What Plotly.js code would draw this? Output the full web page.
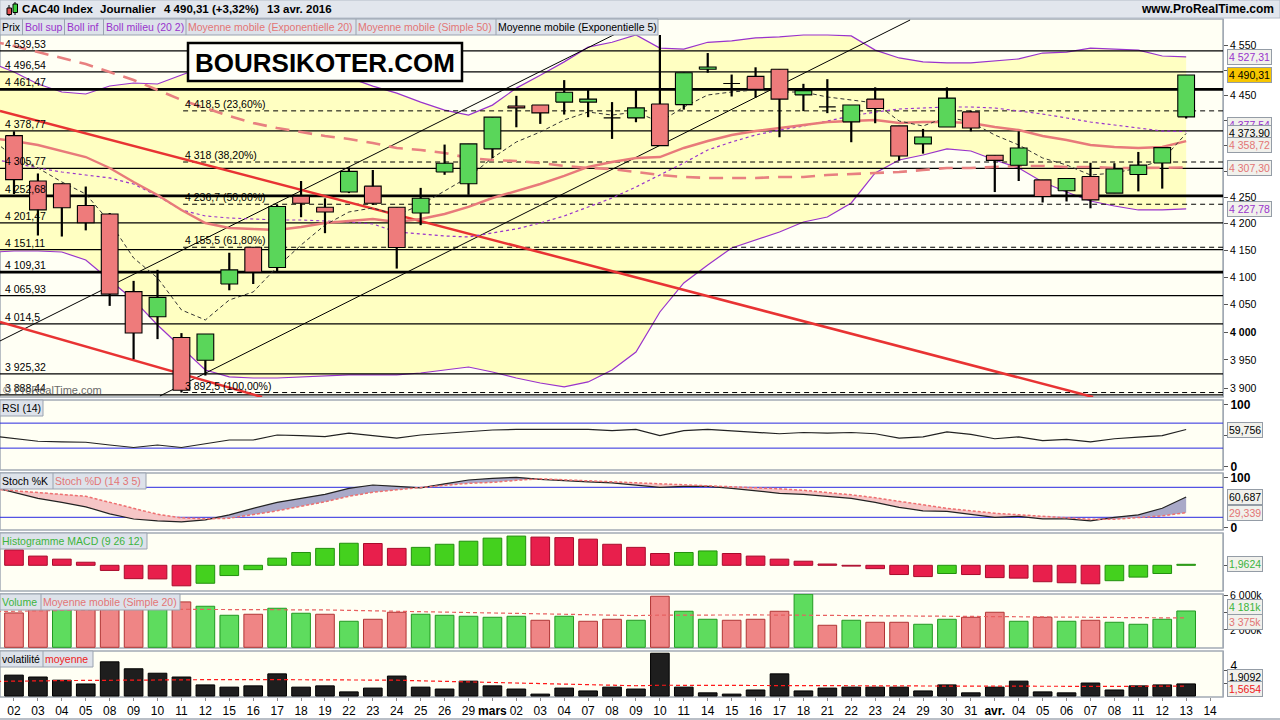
<!DOCTYPE html>
<html><head><meta charset="utf-8">
<script src="https://cdn.plot.ly/plotly-3.0.1.min.js"></script>
<style>html,body{margin:0;padding:0;background:#fff}#chart{width:1280px;height:720px}</style>
</head><body><div id="chart"></div>
<script>
// ---------------- DATA ----------------
const axisLabels = ['02','03','04','05','08','09','10','11','12','15','16','17','18','19','22','23','24','25','26','29','<b>mars</b>','02','03','04','07','08','09','10','11','14','15','16','17','18','21','22','23','24','29','30','31','<b>avr.</b>','04','05','06','07','08','11','12','13','14'];

const openP  = [4369.6,4281.2,4275.9,4234.2,4218.2,4073.4,4027.5,3990.2,3949.6,4087.3,4155.5,4117.8,4252.0,4231.1,4260.0,4271.3,4231.0,4220.0,4298.5,4276.0,4343.5,4428.3,4430.2,4436.0,4436.0,4404.6,4404.6,4432.2,4430.9,4502.0,4473.4,4487.6,4502.0,4450.4,4426.4,4396.7,4442.0,4388.7,4353.3,4386.7,4416.5,4331.0,4311.6,4283.4,4262.6,4289.9,4258.0,4293.9,4316.2,4406.6];
const highP  = [4378,4295.8,4277,4270.6,4220,4093.1,4113.5,3998,3996.3,4145.2,4156,4235.5,4281.2,4248,4307.6,4302.5,4231,4268,4352,4353.3,4406,4448.5,4430.2,4480.1,4460,4436,4460,4572,4495,4535,4491.3,4506,4502,4472.6,4482,4430.2,4465.6,4388.7,4382.8,4465.6,4419,4331,4378,4283.4,4286,4316.5,4315.7,4337.6,4346.7,4490.5];
const lowP   = [4256,4177.5,4175.6,4187.2,4047.3,3951.4,3987.2,3892.5,3922.4,4075.8,4087.3,4110.6,4212,4181.9,4258,4235.5,4115.8,4197,4293.2,4254.7,4325.8,4386,4392.7,4411.2,4406,4363.1,4396,4350,4421,4495,4447.2,4445,4366.4,4418,4414,4356.6,4394,4320.6,4334.3,4386.7,4378,4260,4281.2,4240,4242,4229,4258,4261.3,4266.6,4403.3];
const closeP = [4283.9,4226,4230,4201.5,4068.8,3998.1,4062.8,3896.5,3996.3,4113.4,4109.3,4232.4,4238.6,4221.9,4299.8,4238.6,4155,4248,4315.7,4353.3,4406,4424.4,4414.5,4455.6,4442,4404,4424.4,4350,4495,4506.5,4473,4461.5,4442,4459,4426,4430.2,4423.1,4329.8,4367,4444,4384.7,4321.2,4345.4,4251.5,4286,4245,4304.5,4312,4346,4490.31];

// indicator lines: first value = previous session (01 Feb), then 02 Feb .. 13 Apr
const bollUp  = [4516,4496.5,4472.3,4456.2,4452.2,4468.2,4474.3,4472.3,4490.4,4508,4505,4500,4497,4494,4490,4485,4468,4454,4436,4420,4410,4430,4464,4490,4517,4547,4557,4572,4545,4543,4557,4560,4566,4568,4572,4572,4570,4541,4525,4517,4515,4515,4519,4523,4535,4537,4545,4543,4541,4529,4527.31];
const bollLow = [4146,4148.5,4148.5,4146.6,4131.8,4094.8,4058.1,4012.7,3971.4,3932.2,3919.9,3918.1,3918.1,3919.9,3921.6,3923.4,3923.4,3923.4,3926.9,3932.2,3937.5,3928.7,3918.1,3909.3,3902.3,3911.1,3932.2,3964.2,4036.2,4089.3,4122.5,4154.1,4169.1,4184.1,4203,4212.5,4239.1,4296.7,4321.9,4331.6,4343.4,4339.5,4321.9,4306.4,4279.4,4260.2,4242.9,4233.4,4225.8,4225.8,4227.78];
const bollMid = [4324,4316.1,4306.4,4298.6,4292.8,4287.1,4275.5,4252.5,4225.8,4214.4,4210.6,4208.7,4206.8,4206.8,4204.9,4203,4199.2,4184.1,4180.4,4176.6,4174.7,4182.2,4189.8,4201.1,4214.4,4231.5,4248.6,4269.8,4292.8,4316.1,4341.4,4357.1,4370.8,4380.6,4388.5,4398.4,4408.3,4416.2,4422.2,4424.2,4426.2,4426.2,4424.2,4418.2,4412.2,4404.4,4396.4,4390.5,4384.5,4378.6,4377.54];
const ema20   = [4365,4359,4351.2,4339.4,4327.7,4306.4,4279.4,4254.4,4225.8,4201.1,4191.7,4189.8,4187.9,4193.5,4201.1,4204.9,4208.7,4203,4208.7,4218.2,4231.5,4248.6,4262.1,4275.5,4290.9,4308.3,4318,4325.8,4327.7,4345.3,4359,4370.8,4378.6,4384.5,4390.5,4396.4,4398.4,4400.4,4394.4,4396.4,4396.4,4394.4,4386.5,4380.6,4368.8,4361,4351.2,4347.3,4345.3,4347.3,4358.72];
const sma50   = [4560,4549.4,4537.1,4524.9,4512.6,4496.5,4480.3,4460.2,4440.2,4424.2,4408.3,4394.4,4384.5,4376.7,4368.8,4363,4355.1,4345.3,4341.4,4335.6,4325.8,4321.9,4320,4316.1,4310.3,4306.4,4304.4,4298.6,4292.8,4289,4287.1,4287.1,4287.1,4289,4289,4292.8,4294.8,4296.7,4298.6,4302.5,4306.4,4306.4,4308.3,4310.3,4310.3,4308.3,4308.3,4306.4,4306.4,4306.4,4307.3];
const ema5    = [4365,4327.7,4306.4,4279.4,4256.3,4203,4135.5,4098.5,4039.9,4021.7,4058.1,4072.7,4118.8,4159.7,4197.3,4222,4229.6,4216.3,4235.3,4262.1,4289,4325.8,4357.1,4376.7,4400.4,4416.2,4410.2,4416.2,4396.4,4426.2,4450.2,4456.2,4460.2,4456.2,4456.2,4446.2,4440.2,4434.2,4398.4,4388.5,4406.3,4396.4,4370.8,4351.2,4325.8,4312.2,4292.8,4296.7,4306.4,4321.9,4373.9];

const rsi14  = [50,45.5,41,40,39.4,35,31,35,31,37,43,43,51,50,48.5,54,50,46,51,54,56.5,59,60,60,61,60,58,60,50,58,60,58,56,53,55,54,55,53,46,48,56,52,45,48,42,44,40,45,47.5,50,59.756];
const stochK = [82,70,58,50,41,27,16.6,13,11,15,25,38,50,58,66,78,84.6,82,79,87,94.6,98,100,96,93,91,89,85,80,82,82,78,73,68,66,62,58,50,40,33,32,26,20,22,17,17,13,20,25,38,60.687];
const stochD = [77,73,70,66,62,50,38,26,19,17,18,25,33,42,51,62,70,75,80,84,88,90,94,97,95,93,92,90,88,86,84,82,80,77,74,70,65,59,52,45,38,33,28,25,22,19,16,16,19,23,29.339];
const rsiLevels = [70, 30];
const stochLevels = [80, 20];

const macdHist = [30,18,12,6,-10,-26,-26.5,-40,-35,-20,-8.5,14,25,33,43,42.5,33,35,41,47,53,57,55,54,51,41,35,23,25,28,23,18,12,8,2.5,-1.5,-6.5,-18,-22,-16,-18,-24,-25,-32,-34,-36,-30,-23,-16,1.9624];
const volumeK  = [3955,4838,4608,4723,4838,4992,4378,5222,4723,3686,3802,4493,3917,3802,2995,3226,4032,3802,3686,3571,3456,3571,3110,3571,2995,3226,3110,5875,4147,3226,3110,3226,4147,6106,2534,3110,2880,2880,2650,3226,3456,4032,2995,3456,2995,3110,2880,2650,3226,4181];
const volumeMA = [4100,4150,4230,4290,4330,4360,4375,4378,4380,4380,4378,4370,4350,4320,4300,4250,4200,4120,4060,4000,3930,3880,3840,3800,3760,3720,3680,3650,3700,3720,3725,3725,3725,3710,3690,3660,3630,3610,3600,3580,3560,3545,3535,3520,3480,3440,3400,3360,3345,3345,3375];
const volatility = [3.3,3.0,2.5,1.9,5.4,4.3,3.6,3.0,1.75,1.4,1.6,3.5,1.4,1.6,0.65,1.25,3.15,1.4,1.1,2.35,1.6,1.1,0.3,1.25,0.8,1.4,1.1,6.75,1.4,0.5,0.3,0.95,3.5,0.8,1.25,1.4,1.4,1.4,0.8,1.75,0.5,1.4,2.35,0.65,0.5,2.05,0.95,1.6,1.75,1.9092];
const volatilityAvg = [2.3,2.38,2.4,2.43,2.46,2.5,2.52,2.55,2.57,2.58,2.6,2.6,2.6,2.6,2.58,2.55,2.52,2.5,2.4,2.3,2.2,2.15,2.1,1.95,1.85,1.75,1.68,1.62,1.7,1.7,1.7,1.7,1.7,1.68,1.66,1.65,1.63,1.61,1.6,1.58,1.56,1.55,1.52,1.5,1.5,1.5,1.5,1.52,1.54,1.56,1.5654];

const levelValues = [4539.53,4496.54,4461.47,4378.77,4305.77,4252.68,4201.47,4151.11,4109.31,4065.93,4014.5,3925.32,3888.44];
const levelLabels = ['4 539,53','4 496,54','4 461,47','4 378,77','4 305,77','4 252,68','4 201,47','4 151,11','4 109,31','4 065,93','4 014,5','3 925,32','3 888,44'];
const fibValues = [4418.5,4318,4236.7,4155.5,3892.5];
const fibLabels = ['4 418,5 (23,60%)','4 318 (38,20%)','4 236,7 (50,00%)','4 155,5 (61,80%)','3 892,5 (100,00%)'];
const fibStartSlot = 7.07;

const channelHighX = [-0.585, 26.4],  channelHighY = [3983.9, 4605];
const channelLowX  = [6.10, 37.46],   channelLowY  = [3886.5, 4602.9];
const redHighX     = [-0.585, 45.11], redHighY     = [4418.3, 3884.7];
const redLowX      = [-0.585, 10.37], redLowY      = [4018.1, 3884.7];

const priceTicks = [3900,3950,4000,4050,4100,4150,4200,4250,4300,4350,4400,4450,4500,4550];
const priceTicksHidden = [4300,4350,4400,4500]; // covered by value boxes in the reference

// ---------------- LAYOUT HELPERS ----------------
const FONT = '"Liberation Sans", Arial, sans-serif';
const PW = 1223, PT = 19, PB = 697, PH = PB - PT;
const fx = px => px / PW;
const fy = py => (PB - py) / PH;
const X0 = -0.585, X1 = 50.54;
const candleX = openP.map((_, i) => i);
const lineX = bollUp.map((_, i) => i - 1);
const PURPLE = '#9933cc', SALMON = '#e37575', GREEN = '#3cb43c';
const HALF = 0.35;

function grp(n){ return n.replace(/\B(?=(\d{3})+(?!\d))/g, ' '); }
function fmt(v, d){ const s = v.toFixed(d).split('.'); return grp(s[0]) + (s[1] ? ',' + s[1] : ''); }

const traces = [];
// Bollinger band
traces.push({x: lineX, y: bollLow, type:'scatter', mode:'lines', line:{color:PURPLE, width:1.2}, yaxis:'y', hoverinfo:'skip'});
traces.push({x: lineX, y: bollUp, type:'scatter', mode:'lines', line:{color:PURPLE, width:1.2}, fill:'tonexty', fillcolor:'#ffffc2', yaxis:'y', hoverinfo:'skip'});

// horizontal levels
const thick = new Set([2,5,8]);
let thinX=[],thinY=[],thkX=[],thkY=[];
levelValues.forEach((v,i)=>{ if(thick.has(i)){thkX.push(X0,X1,null);thkY.push(v,v,null);} else {thinX.push(X0,X1,null);thinY.push(v,v,null);} });
traces.push({x:thinX,y:thinY,type:'scatter',mode:'lines',line:{color:'#000',width:1.2},yaxis:'y',hoverinfo:'skip'});
traces.push({x:thkX,y:thkY,type:'scatter',mode:'lines',line:{color:'#000',width:2.6},yaxis:'y',hoverinfo:'skip'});
let fbX=[],fbY=[];
fibValues.forEach(v=>{fbX.push(fibStartSlot,X1,null);fbY.push(v,v,null);});
traces.push({x:fbX,y:fbY,type:'scatter',mode:'lines',line:{color:'#000',width:1,dash:'5px,4px'},yaxis:'y',hoverinfo:'skip'});

// trendlines
traces.push({x:channelHighX,y:channelHighY,type:'scatter',mode:'lines',line:{color:'#000',width:1},yaxis:'y',hoverinfo:'skip'});
traces.push({x:channelLowX,y:channelLowY,type:'scatter',mode:'lines',line:{color:'#000',width:1},yaxis:'y',hoverinfo:'skip'});
traces.push({x:redHighX,y:redHighY,type:'scatter',mode:'lines',line:{color:'#e83333',width:2.5},yaxis:'y',hoverinfo:'skip'});
traces.push({x:redLowX,y:redLowY,type:'scatter',mode:'lines',line:{color:'#e83333',width:2.5},yaxis:'y',hoverinfo:'skip'});

// moving averages
traces.push({x:lineX,y:bollMid,type:'scatter',mode:'lines',line:{color:PURPLE,width:1.2,dash:'3px,3px'},yaxis:'y',hoverinfo:'skip'});
traces.push({x:lineX,y:sma50,type:'scatter',mode:'lines',line:{color:'#e88080',width:2.6,dash:'14px,9px'},yaxis:'y',hoverinfo:'skip'});
traces.push({x:lineX,y:ema20,type:'scatter',mode:'lines',line:{color:'#e87a7a',width:2.4},yaxis:'y',hoverinfo:'skip'});
traces.push({x:lineX,y:ema5,type:'scatter',mode:'lines',line:{color:'#333',width:1,dash:'4px,3px'},yaxis:'y',hoverinfo:'skip'});

// wicks
let wX=[],wY=[];
candleX.forEach(i=>{wX.push(i,i,null);wY.push(lowP[i],highP[i],null);});
traces.push({x:wX,y:wY,type:'scatter',mode:'lines',line:{color:'#000',width:2.2},yaxis:'y',hoverinfo:'skip'});
// candle bodies as filled polygons (scatter layer, so they sit above the band fill)
function bodies(up){
  const xs=[], ys=[];
  candleX.forEach(i=>{
    const isUp = closeP[i] >= openP[i];
    if(isUp !== up) return;
    const a = openP[i], b = closeP[i];
    xs.push(i-HALF,i+HALF,i+HALF,i-HALF,i-HALF,null);
    ys.push(a,a,b,b,a,null);
  });
  return {xs, ys};
}
const bUp = bodies(true), bDn = bodies(false);
traces.push({x:bDn.xs,y:bDn.ys,type:'scatter',mode:'lines',fill:'toself',fillcolor:'#ee7b7b',line:{color:'#000',width:1.1},yaxis:'y',hoverinfo:'skip'});
traces.push({x:bUp.xs,y:bUp.ys,type:'scatter',mode:'lines',fill:'toself',fillcolor:'#5ad65a',line:{color:'#000',width:1.1},yaxis:'y',hoverinfo:'skip'});

// RSI
let rlX=[],rlY=[]; rsiLevels.forEach(v=>{rlX.push(X0,X1,null);rlY.push(v,v,null);});
traces.push({x:rlX,y:rlY,type:'scatter',mode:'lines',line:{color:'#2a2ae0',width:1},yaxis:'y2',hoverinfo:'skip'});
traces.push({x:lineX,y:rsi14,type:'scatter',mode:'lines',line:{color:'#222',width:1.2},yaxis:'y2',hoverinfo:'skip'});

// Stochastic
const kdMax = stochK.map((k,i)=>Math.max(k,stochD[i]));
const kdMin = stochK.map((k,i)=>Math.min(k,stochD[i]));
let slX=[],slY=[]; stochLevels.forEach(v=>{slX.push(X0,X1,null);slY.push(v,v,null);});
traces.push({x:slX,y:slY,type:'scatter',mode:'lines',line:{color:'#2a2ae0',width:1},yaxis:'y3',hoverinfo:'skip'});
traces.push({x:lineX,y:stochD,type:'scatter',mode:'lines',line:{width:0},yaxis:'y3',hoverinfo:'skip'});
traces.push({x:lineX,y:kdMax,type:'scatter',mode:'lines',line:{width:0},fill:'tonexty',fillcolor:'#a9a9c8',yaxis:'y3',hoverinfo:'skip'});
traces.push({x:lineX,y:stochD,type:'scatter',mode:'lines',line:{width:0},yaxis:'y3',hoverinfo:'skip'});
traces.push({x:lineX,y:kdMin,type:'scatter',mode:'lines',line:{width:0},fill:'tonexty',fillcolor:'#f6c6c6',yaxis:'y3',hoverinfo:'skip'});
traces.push({x:lineX,y:stochK,type:'scatter',mode:'lines',line:{color:'#222',width:1.2},yaxis:'y3',hoverinfo:'skip'});
traces.push({x:lineX,y:stochD,type:'scatter',mode:'lines',line:{color:'#ee7070',width:1.5,dash:'3px,2px'},yaxis:'y3',hoverinfo:'skip'});

// MACD histogram
const macdCol = macdHist.map((v,i)=> i>0 && v>macdHist[i-1] ? '#44d11e' : '#e81f4c');
const macdLine = macdHist.map((v,i)=> i>0 && v>macdHist[i-1] ? '#22900e' : '#a80c2c');
traces.push({x:candleX,y:macdHist,type:'bar',width:0.78,marker:{color:macdCol,line:{color:macdLine,width:1}},yaxis:'y4',hoverinfo:'skip'});

// Volume
const volUp = closeP.map((c,i)=> i>0 && c>closeP[i-1]);
traces.push({x:candleX,y:volumeK,type:'bar',width:0.78,marker:{color:volUp.map(u=>u?'#5edc5e':'#ef8585'),line:{color:volUp.map(u=>u?'#229922':'#b03434'),width:1}},yaxis:'y5',hoverinfo:'skip'});
traces.push({x:lineX,y:volumeMA,type:'scatter',mode:'lines',line:{color:'#e86060',width:1.2,dash:'4px,3px'},yaxis:'y5',hoverinfo:'skip'});

// Volatility
traces.push({x:candleX,y:volatility,type:'bar',width:0.78,marker:{color:'#1e1e1e',line:{color:'#000',width:1}},yaxis:'y6',hoverinfo:'skip'});
traces.push({x:lineX,y:volatilityAvg,type:'scatter',mode:'lines',line:{color:'#ff1a1a',width:1.2,dash:'4px,3px'},yaxis:'y6',hoverinfo:'skip'});

// ---------------- AXES ----------------
const baseY = {side:'right',anchor:'x',showgrid:false,zeroline:false,showline:true,linecolor:'#a2aab4',linewidth:1,
  ticks:'outside',ticklen:4,tickcolor:'#555',tickfont:{family:FONT,size:10.5,color:'#000'},fixedrange:true};
const layout = {
  width:1280,height:720,autosize:false,showlegend:false,
  margin:{l:0,r:1280-PW,t:PT,b:720-PB,pad:0},
  paper_bgcolor:'#ffffff',plot_bgcolor:'rgba(0,0,0,0)',
  barmode:'overlay',
  font:{family:FONT,size:10.5,color:'#000'},
  xaxis:{domain:[0,1],anchor:'y6',range:[X0,X1],tickmode:'array',tickvals:axisLabels.map((_,i)=>i),ticktext:axisLabels,
    tickfont:{family:FONT,size:12,color:'#000'},ticks:'outside',ticklen:3,tickcolor:'#888',showgrid:false,zeroline:false,showline:false,
    fixedrange:true},
  yaxis:Object.assign({},baseY,{domain:[fy(397),fy(19)],type:'log',range:[Math.log10(3884.7),Math.log10(4605)],
    tickmode:'array',tickvals:priceTicks,ticktext:priceTicks.map(v=> v===4000?'<b>4 000</b>':(priceTicksHidden.includes(v)?'':fmt(v,0)))}),
  yaxis2:Object.assign({},baseY,{domain:[fy(470),fy(400)],range:[-5,107],tickmode:'array',tickvals:[0,50,100],ticktext:['<b>0</b>','','<b>100</b>'],tickfont:{family:FONT,size:12,color:'#000'}}),
  yaxis3:Object.assign({},baseY,{domain:[fy(530),fy(473)],range:[-5.4,108.6],tickmode:'array',tickvals:[0,100],ticktext:['<b>0</b>','<b>100</b>'],tickfont:{family:FONT,size:12,color:'#000'}}),
  yaxis4:Object.assign({},baseY,{domain:[fy(591),fy(533)],range:[-50.1,63],showticklabels:false,tickmode:'array',tickvals:[0]}),
  yaxis5:Object.assign({},baseY,{domain:[fy(648),fy(594)],range:[-80,6133],tickmode:'array',tickvals:[2000,4000,6000],ticktext:['2 000k','','6 000k']}),
  yaxis6:Object.assign({},baseY,{domain:[0,fy(651)],range:[-0.158,7.11],tickmode:'array',tickvals:[2,4],ticktext:['','4'],ticklabelshift:-5,tickfont:{family:FONT,size:12,color:'#000'}}),
  shapes:[],annotations:[]
};

// pane backgrounds
[[19,397],[400,470],[473,530],[533,591],[594,648],[651,697]].forEach(p=>{
  layout.shapes.push({type:'rect',xref:'paper',yref:'paper',x0:0,x1:1,y0:fy(p[1]),y1:fy(p[0]),fillcolor:'#fffff4',line:{color:'#a2aab4',width:1.5},layer:'below'});
});
// top bar
layout.shapes.push({type:'rect',xref:'paper',yref:'paper',x0:0,x1:fx(1280),y0:fy(18),y1:fy(0),fillcolor:'#e2e6ed',line:{color:'#b4bcc8',width:1},layer:'above'});
layout.shapes.push({type:'line',xref:'paper',yref:'paper',x0:fx(9),x1:fx(9),y0:fy(16),y1:fy(5),line:{color:'#000',width:1},layer:'above'});
layout.shapes.push({type:'rect',xref:'paper',yref:'paper',x0:fx(7),x1:fx(11.5),y0:fy(14.5),y1:fy(8),fillcolor:'#e05050',line:{color:'#000',width:1},layer:'above'});
layout.shapes.push({type:'line',xref:'paper',yref:'paper',x0:fx(15),x1:fx(15),y0:fy(15),y1:fy(2),line:{color:'#000',width:1},layer:'above'});
layout.shapes.push({type:'rect',xref:'paper',yref:'paper',x0:fx(13),x1:fx(17.5),y0:fy(12.5),y1:fy(4),fillcolor:'#3ccc3c',line:{color:'#000',width:1},layer:'above'});
// bottom border
layout.shapes.push({type:'line',xref:'paper',yref:'paper',x0:0,x1:fx(1280),y0:fy(719),y1:fy(719),line:{color:'#a2aab4',width:1.5},layer:'above'});

// label strips
function strip(x1,y0,y1,divs){
  layout.shapes.push({type:'rect',xref:'paper',yref:'paper',x0:0,x1:fx(x1),y0:fy(y1),y1:fy(y0),fillcolor:'#dde2ea',line:{color:'#9aa3b0',width:1},layer:'above'});
  (divs||[]).forEach(d=>layout.shapes.push({type:'line',xref:'paper',yref:'paper',x0:fx(d),x1:fx(d),y0:fy(y1),y1:fy(y0),line:{color:'#9aa3b0',width:1},layer:'above'}));
}
function txt(t,xpx,ypx,color,size,extra){
  layout.annotations.push(Object.assign({xref:'paper',yref:'paper',x:fx(xpx),y:fy(ypx),text:t,showarrow:false,xanchor:'left',yanchor:'middle',
    font:{family:FONT,size:size||10.5,color:color||'#000'},borderpad:0},extra||{}));
}
strip(658,19,35,[22.5,64.5,103.5,186,356,496]);
txt('Prix',1,27); txt('Boll sup',24,27,PURPLE); txt('Boll inf',66,27,PURPLE); txt('Boll milieu (20 2)',105,27,PURPLE);
txt('Moyenne mobile (Exponentielle 20)',187,27,SALMON); txt('Moyenne mobile (Simple 50)',357,27,SALMON); txt('Moyenne mobile (Exponentielle 5)',497,27,'#000');
strip(43,400,416); txt('RSI (14)',1,408);
strip(146,473,489,[53]); txt('Stoch %K',1,481); txt('Stoch %D (14 3 5)',54,481,SALMON);
strip(147,533,549); txt('Histogramme MACD (9 26 12)',1,541,GREEN);
strip(180,594,610,[41]); txt('Volume',1,602,GREEN); txt('Moyenne mobile (Simple 20)',42,602,SALMON);
strip(93,651,667,[43]); txt('volatilité',1,659); txt('moyenne',44,659,'#ee2020');

// title
txt('<b>CAC40 Index</b>',21,9,'#000',11.5); txt('<b>Journalier</b>',99,9,'#000',11.5);
txt('<b>'+fmt(closeP[closeP.length-1],2)+' (+3,32%)</b>',163,9,'#000',11.5); txt('<b>13 avr. 2016</b>',266,9,'#000',11.5);
layout.annotations.push({xref:'paper',yref:'paper',x:fx(1276),y:fy(9),text:'<b>www.ProRealTime.com</b>',showarrow:false,xanchor:'right',yanchor:'middle',font:{family:FONT,size:12,color:'#000'}});

// BOURSIKOTER box
layout.shapes.push({type:'rect',xref:'paper',yref:'paper',x0:fx(188),x1:fx(462),y0:fy(81),y1:fy(43),fillcolor:'#fffffa',line:{color:'#000',width:2.5},layer:'above'});
layout.annotations.push({xref:'paper',yref:'paper',x:fx(325),y:fy(63),text:'<b>BOURSIKOTER.COM</b>',showarrow:false,xanchor:'center',yanchor:'middle',font:{family:FONT,size:26,color:'#000'}});

// level labels
levelValues.forEach((v,i)=>{
  layout.annotations.push({xref:'paper',yref:'y',x:fx(3),y:Math.log10(v),yshift:7,text:levelLabels[i],showarrow:false,xanchor:'left',yanchor:'middle',font:{family:FONT,size:10.5,color:'#000'}});
});
fibValues.forEach((v,i)=>{
  layout.annotations.push({xref:'paper',yref:'y',x:fx(183),y:Math.log10(v),yshift:7,text:fibLabels[i],showarrow:false,xanchor:'left',yanchor:'middle',font:{family:FONT,size:10.5,color:'#000'}});
});
txt('© ProRealTime.com',2,390,'#6a6a6a',11);

// right value boxes
function vbox(yref,yv,t,color,bg,shift){
  layout.annotations.push({xref:'paper',yref:yref,x:fx(1227),y:yv,yshift:shift||0,text:t,showarrow:false,xanchor:'left',yanchor:'middle',
    font:{family:FONT,size:10.5,color:color},bgcolor:bg||'#f1f1ec',bordercolor:'#949ca6',borderwidth:1,borderpad:1});
}
const L = a => a[a.length-1];
vbox('y',Math.log10(L(bollUp)),fmt(L(bollUp),2),PURPLE);
vbox('y',Math.log10(L(closeP)),fmt(L(closeP),2),'#000','#f7c600');
vbox('y',Math.log10(L(bollMid)),fmt(L(bollMid),2),PURPLE,null,7);
vbox('y',Math.log10(L(ema5)),fmt(L(ema5),2),'#000');
vbox('y',Math.log10(L(ema20)),fmt(L(ema20),2),SALMON,null,-4);
vbox('y',Math.log10(L(sma50)),fmt(L(sma50),2),SALMON);
vbox('y',Math.log10(L(bollLow)),fmt(L(bollLow),2),PURPLE);
vbox('y2',L(rsi14),fmt(L(rsi14),3),'#000');
vbox('y3',L(stochK),fmt(L(stochK),3),'#000');
vbox('y3',L(stochD),fmt(L(stochD),3),SALMON);
vbox('y4',L(macdHist),fmt(L(macdHist),4),GREEN);
vbox('y5',L(volumeK),fmt(L(volumeK),0)+'k',GREEN,null,4);
vbox('y5',L(volumeMA),fmt(L(volumeMA),0)+'k',SALMON,null,-4);
vbox('y6',L(volatility),fmt(L(volatility),4),'#000',null,7);
vbox('y6',L(volatilityAvg),fmt(L(volatilityAvg),4),'#ee2020',null,-3);

Plotly.newPlot('chart',traces,layout,{staticPlot:true,displayModeBar:false});
</script></body></html>
